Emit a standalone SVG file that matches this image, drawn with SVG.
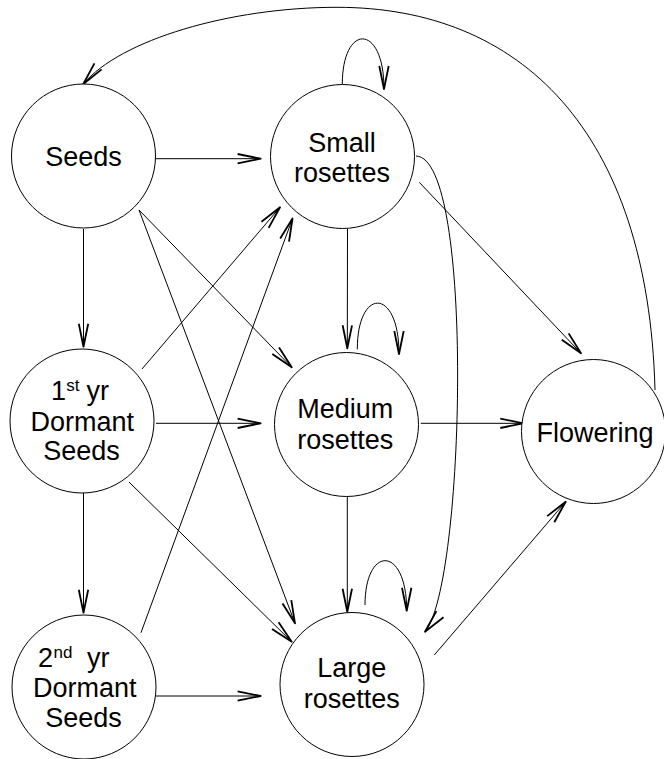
<svg xmlns="http://www.w3.org/2000/svg" width="664" height="759" viewBox="0 0 664 759">
<style>
.node circle{fill:#fff;stroke:#000;stroke-width:1}
.node text{font-family:"Liberation Sans",Arial,sans-serif;font-size:27px;fill:#000}
.node text.c{text-anchor:middle}
.node text.sup{font-size:17px}
.edges path{fill:none;stroke:#000;stroke-width:1;marker-end:url(#ah)}
</style>
<defs>
<marker id="ah" markerUnits="userSpaceOnUse" markerWidth="30" markerHeight="14" viewBox="-26 -7 30 14" refX="0" refY="0" orient="auto" overflow="visible">
<path d="M-23,-4.7 L0,0 L-23,4.7" fill="none" stroke="#000" stroke-width="1.8" stroke-linejoin="round"/>
</marker>
</defs>
<rect width="664" height="759" fill="#fff"/>
<g class="edges" id="connectors">
<path d="M156,158.7 L260.6,158.7"/>
<path d="M83.5,229 L83.5,346.7"/>
<path d="M139,210 L291.7,367.3"/>
<path d="M139,210 L295,623.3"/>
<path d="M142,369 L280,207.3"/>
<path d="M141,632.7 L292.5,218.5"/>
<path d="M156,423.3 L260.6,423.3"/>
<path d="M83.5,493 L83.5,612.7"/>
<path d="M129,482 L291.7,641.7"/>
<path d="M156,696 L260.6,696"/>
<path d="M347.5,229 L347.3,348.3"/>
<path d="M342.3,84.3 C342.3,23 384,23 384,89"/>
<path d="M419.3,182.3 L581,353.3"/>
<path d="M416,156 C475,158 465,585 425,631.7"/>
<path d="M420.8,423.3 L523.3,423.3"/>
<path d="M357.3,349.3 C357.3,287 399,287 399,354"/>
<path d="M347.3,497 L347.3,611.7"/>
<path d="M365,605 C365,545 406.7,545 406.7,610.7"/>
<path d="M434.3,655 L565.7,501.7"/>
<path d="M655,390 C648,130 520,7.3 337,7.3 C230,7.3 120,40 83.3,84"/>
</g>
<g class="node" id="seeds">
<circle cx="83.5" cy="156" r="72"/>
<text class="c" x="83.5" y="166">Seeds</text>
</g>
<g class="node" id="small">
<circle cx="342.5" cy="156.5" r="72"/>
<text class="c" x="342" y="151.7">Small</text>
<text class="c" x="342" y="181.7">rosettes</text>
</g>
<g class="node" id="dormant1">
<circle cx="82" cy="421" r="72"/>
<text x="51" y="400">1</text>
<text class="sup" x="66.2" y="391">st</text>
<text x="86.5" y="400">yr</text>
<text class="c" x="82.2" y="430.5">Dormant</text>
<text class="c" x="81.5" y="460">Seeds</text>
</g>
<g class="node" id="medium">
<circle cx="346.5" cy="424.5" r="72"/>
<text class="c" x="345.3" y="417.7">Medium</text>
<text class="c" x="345.3" y="449.3">rosettes</text>
</g>
<g class="node" id="flowering">
<circle cx="593.5" cy="431.5" r="72"/>
<text class="c" x="595" y="441.7">Flowering</text>
</g>
<g class="node" id="dormant2">
<circle cx="84" cy="687" r="72"/>
<text x="38" y="666.7">2</text>
<text class="sup" x="53.5" y="657.5">nd</text>
<text x="87" y="666.7">yr</text>
<text class="c" x="84.7" y="697.3">Dormant</text>
<text class="c" x="83.5" y="726.7">Seeds</text>
</g>
<g class="node" id="large">
<circle cx="352" cy="684.5" r="72"/>
<text class="c" x="351.7" y="676.7">Large</text>
<text class="c" x="351.7" y="708.3">rosettes</text>
</g>
</svg>
